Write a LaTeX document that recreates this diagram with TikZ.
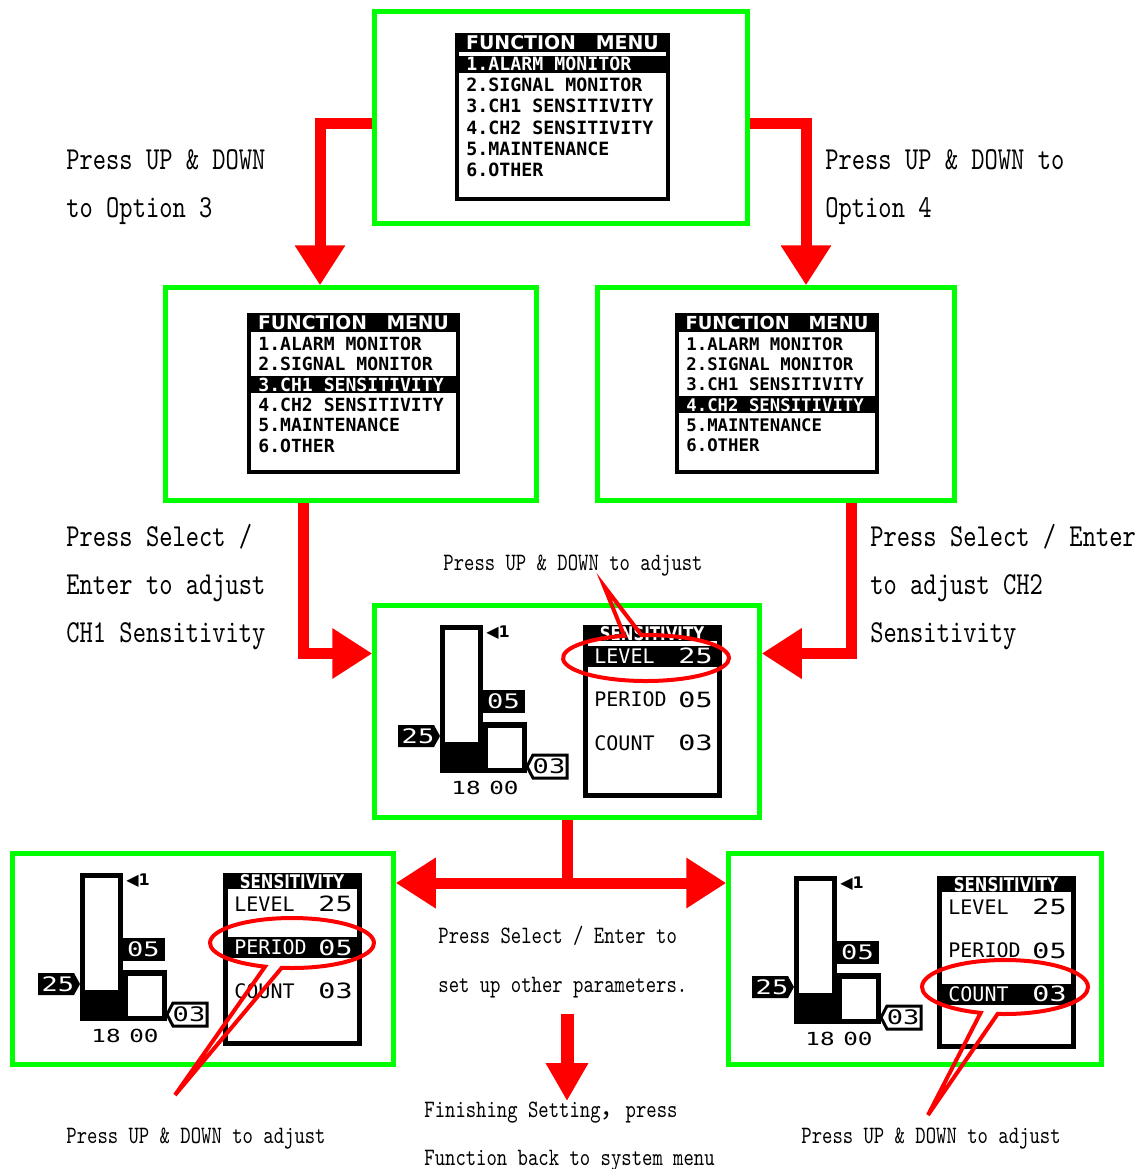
\documentclass[tikz,border=0pt]{standalone}
\usepackage{fontspec}
\usetikzlibrary{arrows.meta,shapes.callouts}
\newfontfamily\notefont{lmmono10-regular.otf}[FakeStretch=0.79]
\newfontfamily\lcdfont{DejaVu Sans Mono}
\newfontfamily\lcdwide{DejaVu Sans Mono}[FakeStretch=1.35]
\newfontfamily\lcdsans{DejaVu Sans}
\newfontfamily\lcdnarrow{DejaVu Sans}[FakeStretch=0.8]
\newfontfamily\cjk{Noto Sans CJK SC}
\tikzset{
  screen/.style={draw=green, line width=2.25pt, inner sep=0pt},
  flow/.style={draw=red, line width=5.5pt, -{Triangle[length=20pt,width=24pt]}},
  note/.style={anchor=base west, inner sep=0pt, font=\notefont\fontsize{16pt}{24pt}\selectfont},
  hint/.style={anchor=base west, inner sep=0pt, font=\notefont\fontsize{12.5pt}{24pt}\selectfont},
  bubble/.style={ellipse callout, draw=red, line width=2pt, inner sep=0pt, callout pointer arc=12},
  tag/.style={inner sep=0pt, font=\lcdwide\fontsize{10pt}{10pt}\selectfont}
}
\begin{document}
\begin{tikzpicture}[x=0.5pt,y=-0.5pt]
  \useasboundingbox (0,0) rectangle (1141,1169);
  \node[screen, minimum width=186.5pt, minimum height=106pt] (menuTop) at (561,117.5) {};
  \node[screen, minimum width=185.5pt, minimum height=106.5pt] (menuCH1) at (351,394) {};
  \node[screen, minimum width=178.5pt, minimum height=106.5pt] (menuCH2) at (776,394) {};
  \node[screen, minimum width=192.5pt, minimum height=106pt] (sensMain) at (567,711.5) {};
  \node[screen, minimum width=190.5pt, minimum height=105.5pt] (sensPeriod) at (203,959) {};
  \node[screen, minimum width=186.5pt, minimum height=105.5pt] (sensCount) at (915,959) {};
  \foreach \mx/\my/\mw/\mh/\sel in {455/33/215/168/1,247/313/213/161/3,675/313/204/161/4}{
    \pgfmathsetmacro\rs{\mh*0.126}
    \pgfmathsetmacro\fs{\mw*0.0425}
    \pgfmathsetmacro\hs{\mw*0.044}
    \draw[line width=2pt] (\mx+2,\my+2) rectangle (\mx+\mw-2,\my+\mh-2);
    \fill (\mx,\my) rectangle (\mx+\mw,\my+19);
    \node[white, inner sep=0pt, font=\lcdsans\bfseries\fontsize{\hs}{\hs}\selectfont] (head\sel) at (\mx+\mw/2,\my+10) {FUNCTION~~~MENU};
    \foreach \n/\entry in {1/1.ALARM MONITOR,2/2.SIGNAL MONITOR,3/3.CH1 SENSITIVITY,4/4.CH2 SENSITIVITY,5/5.MAINTENANCE,6/6.OTHER}{
      \pgfmathsetmacro\ry{\my+31+(\n-1)*\rs}
      \ifnum\n=\sel
        \fill (\mx+4,\ry-8.5) rectangle (\mx+\mw-4,\ry+8.5);
        \def\ink{white}
      \else
        \def\ink{black}
      \fi
      \node[anchor=west, inner sep=0pt, text=\ink, font=\lcdfont\bfseries\fontsize{\fs}{\fs}\selectfont] (item\sel-\n) at (\mx+11,\ry) {\entry};
    }
  }
  \foreach \bx/\by/\sel in {440/625/1,80/873/2,794/876/3}{
    \begin{scope}[shift={(\bx,\by)}]
      \fill (0,0) rectangle (43,148);
      \fill[white] (5,5) rectangle (38,117);
      \fill (38,97) rectangle (87,148);
      \fill[white] (48,103) rectangle (82,143);
      \fill (42,65) rectangle (85,88);
      \node[tag, white] (gate\sel) at (63.5,76.5) {05};
      \node[inner sep=0pt, font=\lcdsans\bfseries\fontsize{8}{8}\selectfont] (chan\sel) at (58,8) {◀1};
      \fill (-42,100) -- (-6,100) -- (0,111) -- (-6,122) -- (-42,122) -- cycle;
      \node[tag, white] (mark\sel) at (-22,111) {25};
      \draw[line width=1.5pt, fill=white] (127,130) -- (93,130) -- (87,141.5) -- (93,153) -- (127,153) -- cycle;
      \node[tag] (cnt\sel) at (109,141.5) {03};
      \node[tag, font=\lcdwide\fontsize{9}{9}\selectfont] (time\sel) at (45,163) {18\kern-3pt\ 00};
      \draw[line width=2.5pt] (145.5,2.5) rectangle (279.5,170.5);
      \fill (143,0) rectangle (282,16);
      \begin{scope}
        \clip (143,0) rectangle (282,16);
        \node[white, inner sep=0pt, font=\lcdnarrow\bfseries\fontsize{9.4}{9.4}\selectfont] (title\sel) at (212,9) {SENSITIVITY};
      \end{scope}
      \foreach \n/\lab/\val in {1/LEVEL/25,2/PERIOD/05,3/COUNT/03}{
        \pgfmathsetmacro\ry{31+(\n-1)*43.5}
        \ifnum\n=\sel
          \fill (148,\ry-10.5) rectangle (277,\ry+10.5);
          \def\ink{white}
        \else
          \def\ink{black}
        \fi
        \node[anchor=west, inner sep=0pt, text=\ink, font=\lcdfont\fontsize{10}{10}\selectfont] (lab\sel-\n) at (154,\ry) {\lab};
        \node[anchor=east, inner sep=0pt, text=\ink, font=\lcdwide\fontsize{10.5}{10.5}\selectfont] (val\sel-\n) at (273,\ry) {\val};
      }
    \end{scope}
  }
  \node[bubble, minimum width=83pt, minimum height=23pt, callout absolute pointer={(604,586)}] (ringLevel) at (646,658) {};
  \node[bubble, minimum width=82pt, minimum height=25pt, callout absolute pointer={(175,1095)}] (ringPeriod) at (292,943) {};
  \node[bubble, minimum width=83pt, minimum height=27pt, callout absolute pointer={(928,1115)}] (ringCount) at (1005,987) {};
  \draw[flow] ([yshift=-3pt]menuTop.west) -| ([xshift=-15.5pt]menuCH1.north);
  \draw[flow] ([yshift=-3pt]menuTop.east) -| ([xshift=15pt]menuCH2.north);
  \draw[flow] ([xshift=-24pt]menuCH1.south) |- ([yshift=29pt]sensMain.west);
  \draw[flow] ([xshift=37.5pt]menuCH2.south) |- ([yshift=29pt]sensMain.east);
  \draw[flow] (sensMain.south) |- ([yshift=38pt]sensPeriod.east);
  \draw[flow] (sensMain.south) |- ([yshift=38pt]sensCount.west);
  \node[note] (opt3a) at (66,169) {Press UP \& DOWN};
  \node[note] (opt3b) at (66,217) {to Option 3};
  \node[note] (opt4a) at (825,169) {Press UP \& DOWN to};
  \node[note] (opt4b) at (825,217) {Option 4};
  \node[note] (ch1a) at (66,546) {Press Select /};
  \node[note] (ch1b) at (66,594) {Enter to adjust};
  \node[note] (ch1c) at (66,642) {CH1 Sensitivity};
  \node[note] (ch2a) at (870,546) {Press Select / Enter};
  \node[note] (ch2b) at (870,594) {to adjust CH2};
  \node[note] (ch2c) at (870,642) {Sensitivity};
  \node[hint] (adjLevel) at (443,570) {Press UP \& DOWN to adjust};
  \node[hint] (nextA) at (438,943) {Press Select / Enter to};
  \node[hint] (nextB) at (438,992) {set up other parameters.};
  \node[hint] (finA) at (424,1117) {Finishing Setting{\cjk ，}press};
  \node[hint] (finB) at (424,1165) {Function back to system menu};
  \node[hint] (adjPeriod) at (66,1143) {Press UP \& DOWN to adjust};
  \node[hint] (adjCount) at (801,1143) {Press UP \& DOWN to adjust};
  \coordinate (doneTop) at (567,1014);
  \draw[red, line width=6.5pt, -{Triangle[length=19pt,width=20pt]}] (doneTop) -- (doneTop |- finA.north);
\end{tikzpicture}
\end{document}
